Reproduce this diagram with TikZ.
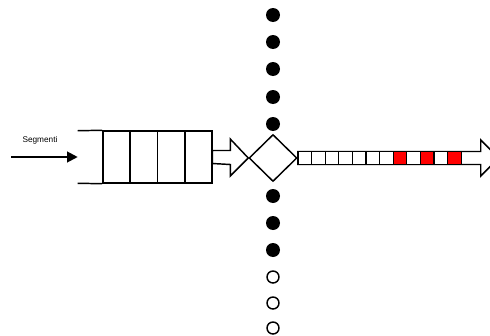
\documentclass[tikz,border=0pt]{standalone}
\usepackage{fontspec}
\setmainfont{Liberation Sans}
\usepackage{tikz}
\usetikzlibrary{shapes.geometric, arrows.meta, calc}
\newlength{\pix}
\setlength{\pix}{0.75pt}

\begin{document}
\begin{tikzpicture}[x=\pix, y=-\pix,
			slot/.style={rectangle, draw=black, line width=1.1pt,
				minimum width=27.25\pix, minimum height=52\pix, inner sep=0pt},
			pkt/.style={rectangle, draw=black, line width=0.9pt, fill=white,
				minimum width=13.6\pix, minimum height=12.5\pix, inner sep=0pt},
			busy/.style={circle, fill=black, minimum size=14\pix, inner sep=0pt},
			idle/.style={circle, draw=black, line width=1.1pt,
				minimum size=12\pix, inner sep=0pt},
			block/.style={draw=black, line width=1.1pt, fill=white, line join=miter},
			arr/.style={-{Triangle[length=8pt, width=8pt]}, line width=1.5pt}
			]
			\useasboundingbox (0,0) rectangle (490,336);

			% buffer
			\node[minimum width=134\pix, minimum height=52\pix, inner sep=0pt] (queue) at (145,157) {};
			\node[slot] (c1) at (116.6,157) {};
			\node[slot] (c2) at (143.9,157) {};
			\node[slot] (c3) at (171.1,157) {};
			\node[slot] (c4) at (198.4,157) {};
			\draw[line width=1.1pt] (queue.north west) -- (c1.north west);
			\draw[line width=1.1pt] (queue.south west) -- (c1.south west);

			\node[font=\fontsize{6.2}{7}\selectfont] (seg) at (40,140) {Segmenti};
			\coordinate (src) at (11,157);
			\draw[arr] (src) -- (queue.west);

			% switch
			\node[diamond, draw=black, line width=1.1pt, minimum width=48\pix,
				minimum height=47\pix, inner sep=0pt] (sw) at (273,158) {};

			\draw[block] ($(queue.east)+(0,-6.5)$) -- ($(sw.west)+(-18,-7.5)$) -- ++(0,-11.5)
				-- (sw.west) -- ++(-18,18) -- ++(0,-11.5) -- ($(queue.east)+(0,6.5)$) -- cycle;

			% output link
			\draw[block] ($(sw.east)+(0,-6.5)$) -- ++(183,0) -- ++(0,-11.5) -- ++(18,18)
				-- ++(-18,18) -- ++(0,-11.5) -- ($(sw.east)+(0,6.5)$) -- cycle;
			\foreach \i in {0,...,6,8,10}
				\node[pkt] (p\i) at (304.8+13.6*\i,158) {};
			\foreach \i in {7,9,11}
				\node[pkt, fill=red] (p\i) at (304.8+13.6*\i,158) {};

			% slots
			\foreach \y [count=\k] in {15,42,69,97,124,196,223,250}
				\node[busy] (b\k) at (273,\y) {};
			\foreach \y [count=\k] in {277,303,328}
				\node[idle] (f\k) at (273,\y) {};
		\end{tikzpicture}
\end{document}
